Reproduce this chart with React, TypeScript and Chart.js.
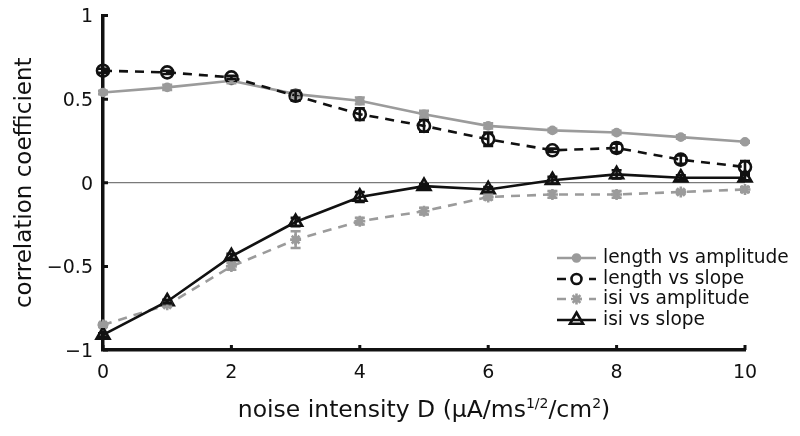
import React, { useEffect, useRef } from "react";
import { Chart, registerables } from "chart.js";

Chart.register(...registerables);

// ---- data ----
const noiseIntensity = [0, 1, 2, 3, 4, 5, 6, 7, 8, 9, 10];
const lengthVsAmplitude = [0.54, 0.57, 0.61, 0.53, 0.49, 0.41, 0.34, 0.313, 0.3, 0.273, 0.245];
const lengthVsAmplitudeErr = [0.01, 0.015, 0.015, 0.02, 0.02, 0.02, 0.015, 0.01, 0.01, 0.01, 0.005];
const lengthVsSlope = [0.67, 0.66, 0.63, 0.52, 0.41, 0.34, 0.26, 0.194, 0.208, 0.138, 0.094];
const lengthVsSlopeErr = [0.012, 0.01, 0.01, 0.03, 0.035, 0.035, 0.04, 0.01, 0.025, 0.025, 0.035];
const isiVsAmplitude = [-0.85, -0.73, -0.5, -0.34, -0.23, -0.17, -0.085, -0.07, -0.07, -0.055, -0.04];
const isiVsAmplitudeErr = [0.01, 0.01, 0.02, 0.05, 0.02, 0.02, 0.015, 0.02, 0.02, 0.01, 0.015];
const isiVsSlope = [-0.91, -0.71, -0.44, -0.235, -0.085, -0.02, -0.04, 0.015, 0.05, 0.03, 0.03];
const isiVsSlopeErr = [0.01, 0.01, 0.015, 0.025, 0.03, 0.01, 0.015, 0.02, 0.025, 0.015, 0.015];

const seriesNames = ["length vs amplitude", "length vs slope", "isi vs amplitude", "isi vs slope"];
const xTickValues = [0, 2, 4, 6, 8, 10];
const xTickLabels = ["0", "2", "4", "6", "8", "10"];
const yTickValues = [-1, -0.5, 0, 0.5, 1];
const yTickLabels = ["\u22121", "\u22120.5", "0", "0.5", "1"];
const yTitle = "correlation coefficient";
const xTitleParts = ["noise intensity D (\u03bcA/ms", "1/2", "/cm", "2", ")"];

const GRAY = "#9b9b9b";
const BLACK = "#111111";
const FONT = "'DejaVu Sans', sans-serif";

const toPts = (ys: number[]) => ys.map((y, i) => ({ x: noiseIntensity[i], y }));

const seriesStyles = [
  { color: GRAY, dash: [] as number[], point: "circle", radius: 3.5, fill: GRAY, lw: 2.6 },
  { color: BLACK, dash: [9, 7], point: "circle", radius: 6, fill: "rgba(0,0,0,0)", lw: 2.6 },
  { color: GRAY, dash: [9, 7], point: "star", radius: 5.5, fill: GRAY, lw: 2.6 },
  { color: BLACK, dash: [] as number[], point: "triangle", radius: 7.5, fill: "rgba(0,0,0,0)", lw: 2.6 },
];

const errorsList = [lengthVsAmplitudeErr, lengthVsSlopeErr, isiVsAmplitudeErr, isiVsSlopeErr];
const valuesList = [lengthVsAmplitude, lengthVsSlope, isiVsAmplitude, isiVsSlope];

function drawMarker(ctx: CanvasRenderingContext2D, style: string, x: number, y: number, r: number, color: string, fill: string, lw: number) {
  ctx.save();
  ctx.setLineDash([]);
  ctx.strokeStyle = color;
  ctx.fillStyle = fill;
  ctx.lineWidth = lw;
  ctx.beginPath();
  if (style === "circle") {
    ctx.arc(x, y, r, 0, Math.PI * 2);
    ctx.fill();
    ctx.stroke();
  } else if (style === "triangle") {
    let rad = 0;
    ctx.moveTo(x + Math.sin(rad) * r, y - Math.cos(rad) * r);
    rad += (2 * Math.PI) / 3;
    ctx.lineTo(x + Math.sin(rad) * r, y - Math.cos(rad) * r);
    rad += (2 * Math.PI) / 3;
    ctx.lineTo(x + Math.sin(rad) * r, y - Math.cos(rad) * r);
    ctx.closePath();
    ctx.stroke();
  } else if (style === "star") {
    for (let k = 0; k < 4; k++) {
      const a = (k * Math.PI) / 4;
      ctx.moveTo(x - Math.cos(a) * r, y - Math.sin(a) * r);
      ctx.lineTo(x + Math.cos(a) * r, y + Math.sin(a) * r);
    }
    ctx.stroke();
  }
  ctx.restore();
}

const customPlugin = {
  id: "customDecor",
  afterDatasetsDraw(chart: any) {
    const ctx = chart.ctx as CanvasRenderingContext2D;
    const xs = chart.scales.x;
    const ys = chart.scales.y;
    const drawOrder = [0, 2, 1, 3];
    for (const si of drawOrder) {
      const st = seriesStyles[si];
      const vals = valuesList[si];
      const errs = errorsList[si];
      ctx.save();
      ctx.strokeStyle = st.color;
      ctx.lineWidth = 2.6;
      ctx.setLineDash([]);
      for (let i = 0; i < vals.length; i++) {
        const px = xs.getPixelForValue(noiseIntensity[i]);
        const yt = ys.getPixelForValue(vals[i] + errs[i]);
        const yb = ys.getPixelForValue(vals[i] - errs[i]);
        ctx.beginPath();
        ctx.moveTo(px, yt);
        ctx.lineTo(px, yb);
        ctx.moveTo(px - 5, yt);
        ctx.lineTo(px + 5, yt);
        ctx.moveTo(px - 5, yb);
        ctx.lineTo(px + 5, yb);
        ctx.stroke();
      }
      ctx.restore();
    }
  },
  afterDraw(chart: any) {
    const ctx = chart.ctx as CanvasRenderingContext2D;
    const area = chart.chartArea;
    const xs = chart.scales.x;
    const ys = chart.scales.y;
    // inward ticks
    ctx.save();
    ctx.strokeStyle = BLACK;
    ctx.lineWidth = 3;
    ctx.beginPath();
    for (const v of xTickValues) {
      const px = xs.getPixelForValue(v);
      ctx.moveTo(px, area.bottom);
      ctx.lineTo(px, area.bottom - 5);
    }
    for (const v of yTickValues) {
      const py = ys.getPixelForValue(v);
      ctx.moveTo(area.left, py);
      ctx.lineTo(area.left + 5, py);
    }
    ctx.stroke();
    ctx.restore();

    // x-axis title with superscripts
    ctx.save();
    ctx.fillStyle = BLACK;
    ctx.textBaseline = "alphabetic";
    const big = `23.5px ${FONT}`;
    const small = `14px ${FONT}`;
    const fonts = [big, small, big, small, big];
    const raise = [0, -9, 0, -9, 0];
    let total = 0;
    const widths: number[] = [];
    xTitleParts.forEach((t, i) => {
      ctx.font = fonts[i];
      const w = ctx.measureText(t).width;
      widths.push(w);
      total += w;
    });
    let cx = (area.left + area.right) / 2 - total / 2;
    const base = 417;
    xTitleParts.forEach((t, i) => {
      ctx.font = fonts[i];
      ctx.textAlign = "left";
      ctx.fillText(t, cx, base + raise[i]);
      cx += widths[i];
    });
    ctx.restore();

    // legend
    ctx.save();
    const lx0 = 557;
    const lx1 = 596;
    const rowY = [258, 279, 299, 320];
    for (let i = 0; i < seriesNames.length; i++) {
      const st = seriesStyles[i];
      const y = rowY[i];
      ctx.strokeStyle = st.color;
      ctx.lineWidth = st.lw;
      ctx.setLineDash(st.dash);
      ctx.beginPath();
      ctx.moveTo(lx0, y);
      ctx.lineTo(lx1, y);
      ctx.stroke();
      drawMarker(ctx, st.point, (lx0 + lx1) / 2, y, st.point === "circle" && i === 1 ? 5 : st.radius, st.color, st.point === "circle" && i === 1 ? "#ffffff" : st.fill, st.lw);
      ctx.setLineDash([]);
      ctx.fillStyle = BLACK;
      ctx.font = `18.6px ${FONT}`;
      ctx.textAlign = "left";
      ctx.textBaseline = "middle";
      ctx.fillText(seriesNames[i], 603, y);
    }
    ctx.restore();
  },
};

export default function App() {
  const canvasRef = useRef<HTMLCanvasElement | null>(null);

  useEffect(() => {
    document.body.style.margin = "0";
    const canvas = canvasRef.current;
    if (!canvas) return;
    const order = [1, 0, 1, 0];
    const datasets = valuesList.map((vals, i) => {
      const st = seriesStyles[i];
      return {
        label: seriesNames[i],
        data: toPts(vals),
        borderColor: st.color,
        backgroundColor: st.fill,
        borderWidth: st.lw,
        borderDash: st.dash,
        pointStyle: st.point,
        pointRadius: st.radius,
        pointBorderColor: st.color,
        pointBackgroundColor: st.fill,
        pointBorderWidth: 2.6,
        tension: 0,
        fill: false,
        clip: false,
        order: order[i],
      };
    });

    const chart = new Chart(canvas, {
      type: "line",
      data: { datasets: datasets as any },
      options: {
        animation: false,
        responsive: false,
        maintainAspectRatio: false,
        layout: { padding: { left: 0, top: 15.5, right: 55, bottom: 0 } },
        plugins: { legend: { display: false }, tooltip: { enabled: false } },
        elements: { line: { borderCapStyle: "butt" } },
        scales: {
          x: {
            type: "linear",
            min: 0,
            max: 10,
            afterFit: (s: any) => {
              s.height = 86;
              s.paddingLeft = 0;
              s.paddingRight = 0;
            },
            afterBuildTicks: (s: any) => {
              s.ticks = xTickValues.map((v) => ({ value: v }));
            },
            ticks: {
              color: BLACK,
              font: { family: FONT, size: 19 },
              padding: 12,
              maxRotation: 0,
              autoSkip: false,
              callback: (v: any) => {
                const idx = xTickValues.indexOf(Number(v));
                return idx >= 0 ? xTickLabels[idx] : "";
              },
            },
            grid: { display: false, drawTicks: false },
            border: { display: true, color: BLACK, width: 3.5 },
          },
          y: {
            type: "linear",
            min: -1,
            max: 1,
            afterFit: (s: any) => {
              s.width = 103;
              s.paddingTop = 0;
              s.paddingBottom = 0;
            },
            afterBuildTicks: (s: any) => {
              s.ticks = yTickValues.map((v) => ({ value: v }));
            },
            ticks: {
              color: BLACK,
              font: { family: FONT, size: 19 },
              padding: 10,
              labelOffset: 2,
              autoSkip: false,
              callback: (v: any) => {
                const idx = yTickValues.indexOf(Number(v));
                return idx >= 0 ? yTickLabels[idx] : "";
              },
            },
            grid: {
              display: true,
              drawTicks: false,
              lineWidth: 1.2,
              color: (c: any) => (c.tick && c.tick.value === 0 ? "#7a7a7a" : "rgba(0,0,0,0)"),
            },
            border: { display: true, color: BLACK, width: 3.5 },
            title: {
              display: true,
              text: yTitle,
              color: BLACK,
              font: { family: FONT, size: 23 },
              padding: { top: 11, bottom: 0 },
            },
          },
        },
      },
      plugins: [customPlugin],
    });
    return () => chart.destroy();
  }, []);

  return (
    <div style={{ width: 800, height: 436, background: "#fff" }}>
      <canvas ref={canvasRef} width={800} height={436} style={{ display: "block" }} />
    </div>
  );
}
